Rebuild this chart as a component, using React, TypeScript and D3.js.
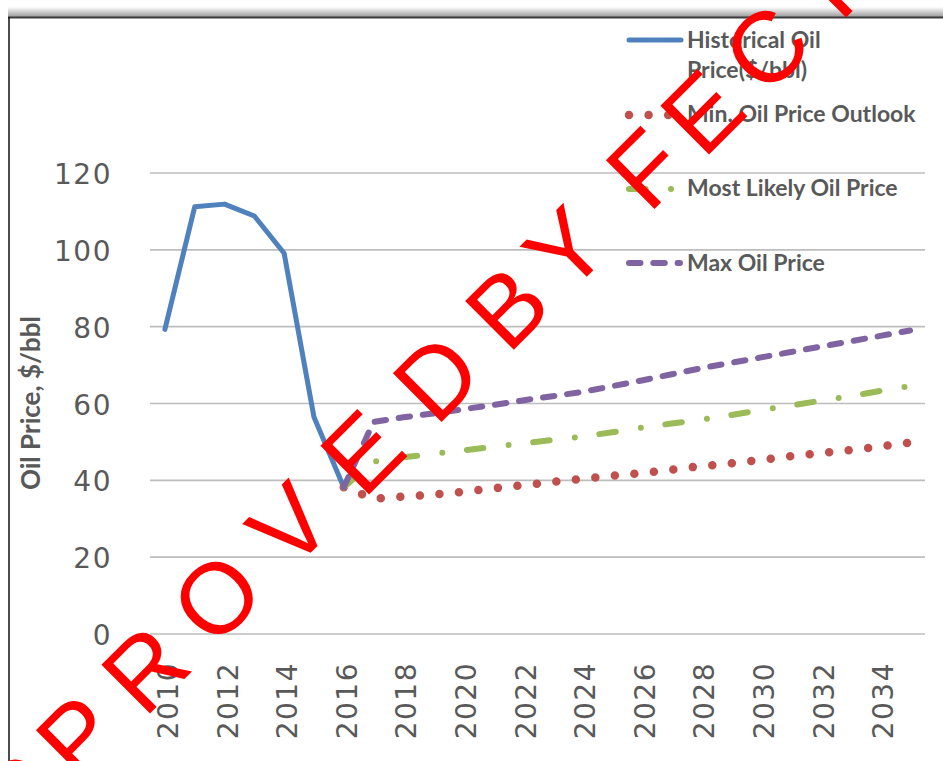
import React from 'react';
import * as d3 from 'd3';

// ---------- data ----------
const YEARS = [2010, 2011, 2012, 2013, 2014, 2015, 2016, 2017, 2018, 2019, 2020, 2021, 2022, 2023, 2024, 2025, 2026, 2027, 2028, 2029, 2030, 2031, 2032, 2033, 2034, 2035];
const TICK_YEARS = [2010, 2012, 2014, 2016, 2018, 2020, 2022, 2024, 2026, 2028, 2030, 2032, 2034];
const Y_TICKS = [0, 20, 40, 60, 80, 100, 120];

const HIST_YEARS = [2010, 2011, 2012, 2013, 2014, 2015, 2016];
const HIST_PRICE = [79.3, 111.2, 111.9, 108.8, 99.1, 56.5, 38.2];

const FORECAST_YEARS = [2016, 2017, 2018, 2019, 2020, 2021, 2022, 2023, 2024, 2025, 2026, 2027, 2028, 2029, 2030, 2031, 2032, 2033, 2034, 2035];
const MIN_PRICE = [38.2, 35.2, 35.8, 36.3, 37.0, 37.9, 38.7, 39.6, 40.4, 41.2, 41.9, 42.8, 43.7, 44.4, 45.3, 46.3, 47.1, 47.9, 48.8, 49.8];
const LIKELY_PRICE = [38.2, 44.9, 46.0, 46.9, 47.8, 48.7, 49.6, 50.5, 51.4, 52.5, 53.7, 54.8, 55.8, 57.0, 58.3, 59.5, 60.7, 61.9, 63.3, 64.5];
const MAX_PRICE = [38.2, 55.2, 56.4, 57.4, 58.5, 59.6, 60.8, 61.9, 63.0, 64.5, 66.0, 67.6, 69.2, 70.6, 72.0, 73.4, 74.8, 76.2, 77.6, 79.0];

const LEGEND_LABELS = [
  ['Historical Oil', 'Price($/bbl)'],
  ['Min. Oil Price Outlook'],
  ['Most Likely Oil Price'],
  ['Max Oil Price'],
];
const Y_TITLE = 'Oil Price, $/bbl';
const WATERMARK = 'APPROVED BY FECT';

// ---------- styles ----------
const STYLES = [
  { color: '#4f81bd', width: 5, dash: undefined as string | undefined },
  { color: '#c0504d', width: 8.5, dash: '0 19.6' },
  { color: '#9bbb59', width: 6, dash: '16.7 25.3 0 24.7' },
  { color: '#8064a2', width: 6, dash: '11.5 12.8' },
];
// extra spacing before each watermark letter
const WM_DX = [0, 0, 0, 10, 10, 15, 20, 20, 0, -30, 0, 0, -10, 0, 5, 0];

export default function App() {
  const W = 943;
  const H = 761;
  const x = d3.scalePoint<number>().domain(YEARS).range([150, 925]).padding(0.5);
  const y = d3.scaleLinear().domain([0, 120]).range([634, 173]);
  const line = d3
    .line<[number, number]>()
    .x((d) => x(d[0]) as number)
    .y((d) => y(d[1]));

  const series: [number, number][][] = [
    HIST_YEARS.map((yr, i) => [yr, HIST_PRICE[i]]),
    FORECAST_YEARS.map((yr, i) => [yr, MIN_PRICE[i]]),
    FORECAST_YEARS.map((yr, i) => [yr, LIKELY_PRICE[i]]),
    FORECAST_YEARS.map((yr, i) => [yr, MAX_PRICE[i]]),
  ];

  const legendRowY = [40, 115, 189, 263];
  const legendTextY = [[47.5, 77.5], [122], [196], [270.5]];

  return (
    <svg
      width={W}
      height={H}
      style={{ position: 'absolute', left: 0, top: 0, background: '#fff' }}
    >
      <defs>
        <linearGradient id="topShade" x1="0" y1="0" x2="0" y2="1">
          <stop offset="0" stopColor="#ffffff" />
          <stop offset="1" stopColor="#9a9a9a" />
        </linearGradient>
      </defs>
      <rect x={0} y={0} width={W} height={H} fill="#fff" />
      {/* frame */}
      <rect x={8} y={7} width={W - 8} height={10} fill="url(#topShade)" />
      <line x1={8} x2={W} y1={17.5} y2={17.5} stroke="#3c3c3c" strokeWidth={2} />
      <line x1={9} x2={9} y1={17} y2={H} stroke="#111" strokeWidth={1.5} />

      {/* gridlines */}
      {Y_TICKS.map((t) => (
        <line key={'g' + t} x1={150} x2={925} y1={y(t)} y2={y(t)} stroke="#bdbdbd" strokeWidth={1.6} />
      ))}

      {/* y tick labels */}
      {Y_TICKS.map((t) => (
        <text
          key={'yl' + t}
          x={112}
          y={y(t) + 3}
          textAnchor="end"
          dominantBaseline="middle"
          fontFamily="DejaVu Sans"
          fontSize={28}
          letterSpacing={1.5}
          fill="#595959"
        >
          {t}
        </text>
      ))}

      {/* x tick labels */}
      {TICK_YEARS.map((yr) => (
        <text
          key={'xl' + yr}
          transform={`translate(${(x(yr) as number) + 5},662) rotate(-90)`}
          textAnchor="end"
          dominantBaseline="middle"
          fontFamily="DejaVu Sans"
          fontSize={28}
          letterSpacing={1.5}
          fill="#595959"
        >
          {yr}
        </text>
      ))}

      {/* y title */}
      <text
        transform="translate(40,403) rotate(-90)"
        textAnchor="middle"
        fontFamily="Lato"
        fontWeight="bold"
        fontSize={26}
        fill="#595959"
      >
        {Y_TITLE}
      </text>

      {/* series */}
      {series.map((pts, i) => (
        <path
          key={'s' + i}
          d={line(pts) || ''}
          fill="none"
          stroke={STYLES[i].color}
          strokeWidth={STYLES[i].width}
          strokeDasharray={STYLES[i].dash}
          strokeLinecap="round"
          strokeLinejoin="round"
        />
      ))}

      {/* legend */}
      {LEGEND_LABELS.map((lbl, i) => (
        <g key={'lg' + i}>
          <line
            x1={629}
            x2={i === 0 ? 681 : 680}
            y1={legendRowY[i]}
            y2={legendRowY[i]}
            stroke={STYLES[i].color}
            strokeWidth={STYLES[i].width}
            strokeDasharray={STYLES[i].dash}
            strokeLinecap="round"
          />
          {lbl.map((t, j) => (
            <text
              key={j}
              x={687}
              y={legendTextY[i][j]}
              fontFamily="Lato"
              fontWeight="bold"
              fontSize={23}
              fill="#595959"
            >
              {t}
            </text>
          ))}
        </g>
      ))}

      {/* watermark */}
      <text
        transform="translate(-38.3,901.8) rotate(-45)"
        fontFamily="Liberation Sans"
        fontSize={100}
        letterSpacing={16}
        fill="#ff0000"
      >
        {WATERMARK.split('').map((ch, i) => (
          <tspan key={i} dx={WM_DX[i]}>
            {ch === ' ' ? '\u00a0' : ch}
          </tspan>
        ))}
      </text>
    </svg>
  );
}
